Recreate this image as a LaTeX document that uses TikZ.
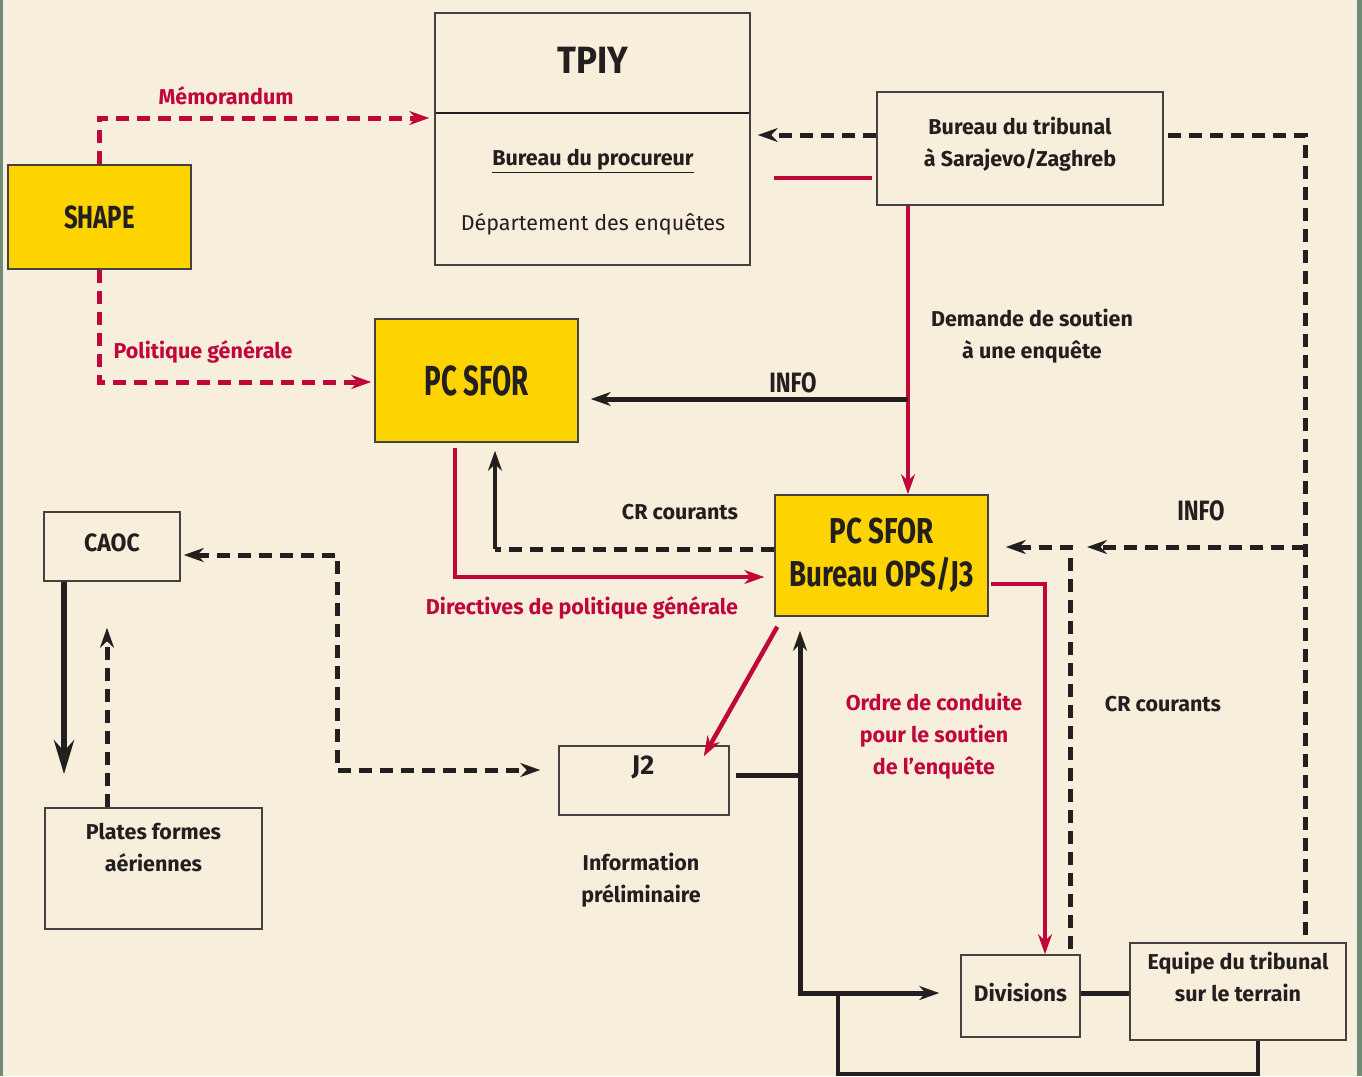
\documentclass[tikz,border=0pt]{standalone}
\usepackage{fontspec}
\setmainfont{Fira Sans}
\usepackage{graphicx}
\usetikzlibrary{arrows.meta,calc}
\definecolor{bg}{HTML}{F7EEDC}
\definecolor{framegreen}{HTML}{6F8C76}
\definecolor{ylw}{HTML}{FDD400}
\definecolor{rd}{HTML}{C0073A}
\definecolor{ink}{HTML}{231F20}
\newcommand\cnd[2][0.75]{\scalebox{#1}[1]{#2}}
\tikzset{
  box/.style={draw=ink!85, line width=1.5pt, fill=bg, inner sep=0pt},
  ybox/.style={box, fill=ylw},
  lbl/.style={font=\fontsize{21.5}{32}\selectfont\bfseries, text=ink, align=center, inner sep=0pt},
  rlbl/.style={lbl, text=rd},
  kline/.style={draw=ink, line width=5pt},
  kdash/.style={draw=ink, line width=5pt, dash pattern=on 13pt off 8pt},
  rline/.style={draw=rd, line width=4.5pt},
  rdash/.style={draw=rd, line width=5pt, dash pattern=on 13pt off 8pt},
  arr/.style={-{Stealth[length=20pt,width=14pt]}},
  arrs/.style={{Stealth[length=20pt,width=14pt]}-{Stealth[length=20pt,width=14pt]}},
}
\begin{document}
\begin{tikzpicture}[x=1pt,y=-1pt]
\fill[bg] (0,0) rectangle (1362,1076);
\useasboundingbox (0,0) rectangle (1362,1076);
\fill[framegreen] (0,0) rectangle (2.5,1076);
\fill[framegreen] (1357,0) rectangle (1362,1076);

% helper coordinates
\coordinate (ym) at (0,118);
\coordinate (yp) at (0,382);
\coordinate (yt) at (0,135);
\coordinate (yr) at (0,178);
\coordinate (xr) at (1305,0);
\coordinate (xd) at (908,0);
\coordinate (yinfo) at (0,399);
\coordinate (ycr) at (0,549);
\coordinate (xcr) at (495,0);
\coordinate (xdir) at (455,0);
\coordinate (ydir) at (0,577);
\coordinate (xj) at (337,0);
\coordinate (ycj) at (0,555);
\coordinate (yj2) at (0,770);
\coordinate (yj2r) at (0,775);
\coordinate (xv) at (800,0);
\coordinate (ydiv) at (0,993);
\coordinate (xb) at (838,0);
\coordinate (ybot) at (0,1074);
\coordinate (xeq) at (1258,0);
\coordinate (xo) at (1045,0);
\coordinate (yo) at (0,584);
\coordinate (xcr2) at (1070,0);
\coordinate (yinfo2) at (0,547);
\coordinate (xc) at (64,0);
\coordinate (xpu) at (107,0);

% boxes
\node[ybox, minimum width=183pt, minimum height=104pt] (shape) at (99.5,217)
  {\fontsize{32}{32}\selectfont\bfseries\color{ink}\cnd{SHAPE}};
\node[box, minimum width=315pt, minimum height=252pt] (tpiy) at (592.5,139) {};
\draw[ink, line width=2.5pt] ($(tpiy.west |- 0,113)+(2,0)$) -- ($(tpiy.east |- 0,113)+(-2,0)$);
\node[lbl, font=\fontsize{38}{38}\selectfont\bfseries] (tpiyT) at (593,60) {\cnd[0.92]{TPIY}};
\node[lbl] (bproc) at (593,161) {\underline{Bureau du procureur}};
\node[lbl, font=\fontsize{21.5}{32}\selectfont] (denq) at (593,224) {Département des enquêtes};

\node[box, minimum width=286pt, minimum height=113pt] (bt) at (1020,148.5) {};
\node[lbl] (btT) at (1020,144) {Bureau du tribunal\\à Sarajevo/Zaghreb};

\node[ybox, minimum width=203pt, minimum height=123pt] (pcsfor) at (476.5,380.5)
  {\fontsize{42}{42}\selectfont\bfseries\color{ink}\cnd[0.66]{PC SFOR}};
\node[ybox, minimum width=213pt, minimum height=121pt, align=center,
  font=\fontsize{36}{43}\selectfont\bfseries, text=ink] (j3) at (881.5,555.5)
  {\cnd[0.77]{PC SFOR}\\\cnd[0.77]{Bureau OPS/J3}};

\node[box, minimum width=136pt, minimum height=69pt] (caoc) at (112,546.5) {};
\node[lbl, font=\fontsize{25}{30}\selectfont\bfseries] (caocT) at (112,543) {\cnd[0.92]{CAOC}};
\node[box, minimum width=170pt, minimum height=69pt] (j2) at (644,780.5) {};
\node[lbl, font=\fontsize{27}{30}\selectfont\bfseries] (j2T) at (643,767) {J2};
\node[box, minimum width=217pt, minimum height=121pt] (plates) at (153.5,868.5) {};
\node[lbl] (platesT) at (153.5,848) {Plates formes\\aériennes};
\node[box, minimum width=119pt, minimum height=82pt] (div) at (1020.5,996) {};
\node[lbl, font=\fontsize{22.5}{30}\selectfont\bfseries] (divT) at (1020.5,993) {Divisions};
\node[box, minimum width=216pt, minimum height=97pt] (eq) at (1238,991.5) {};
\node[lbl] (eqT) at (1238,977) {Equipe du tribunal\\sur le terrain};

% connectors
\draw[rdash, arr, shorten >=5pt] (shape.north) |- (tpiy.west |- ym);
\draw[rdash, arr, shorten >=3pt] (shape.south) |- (pcsfor.west |- yp);
\draw[kdash, arr, shorten >=7pt] (bt.west |- yt) -- (tpiy.east |- yt);
\draw[rline, shorten <=4pt, shorten >=23pt] (bt.west |- yr) -- (tpiy.east |- yr);
\draw[kdash, shorten <=4pt] (bt.east |- yt) -| (eq.north -| xr);
\draw[kdash, arr, shorten >=17pt] (xr |- yinfo2) -- (xcr2 |- yinfo2);
\draw[rline, arr] (bt.south -| xd) -- (j3.north -| xd);
\draw[kline, arr, shorten >=12pt] (xd |- yinfo) -- (pcsfor.east |- yinfo);
\draw[kdash] (j3.west |- ycr) -- (xcr |- ycr);
\draw[kline, line width=4.5pt, arr, shorten >=8pt] (xcr |- ycr) -- (pcsfor.south -| xcr);
\draw[rline, arr, shorten <=5pt, shorten >=10pt] (pcsfor.south -| xdir) |- (j3.west |- ydir);
\draw[rline, arr] ($(j3.south west)+(3,10)$) -- ($(j2.north east)+(-26,11)$);
\draw[kdash, arrs, shorten <=3pt, shorten >=18pt] (caoc.east |- ycj) -| (xj |- yj2) -- (j2.west |- yj2);
\draw[kline, line width=6.5pt, -{Stealth[length=34pt,width=20pt]}, shorten >=33pt] (caoc.south -| xc) -- (plates.north -| xc);
\draw[kdash, arr, shorten >=46pt] (plates.north -| xpu) -- (caoc.south -| xpu);
\draw[kline, shorten <=6pt] (j2.east |- yj2r) -- (xv |- yj2r);
\draw[kline, arrs, shorten <=14pt, shorten >=21pt] (j3.south -| xv) -- (xv |- ydiv) -- (div.west |- ydiv);
\draw[kline, line width=4.5pt] (xb |- ydiv) |- (xeq |- ybot) -- (eq.south -| xeq);
\draw[rline, arr, shorten <=2pt] (j3.east |- yo) -| (div.north -| xo);
\draw[kdash, arr, shorten <=5pt, shorten >=17pt] (div.north -| xcr2) |- (j3.east |- yinfo2);
\draw[kline] (div.east |- ydiv) -- (eq.west |- ydiv);

% labels
\node[rlbl] (lmemo) at (226,96) {Mémorandum};
\node[rlbl] (lpol) at (203,352) {Politique générale};
\node[lbl] (ldem) at (1032,336) {Demande de soutien\\à une enquête};
\node[lbl, font=\fontsize{28}{28}\selectfont\bfseries] (linfo1) at (793,383) {\cnd[0.8]{INFO}};
\node[lbl] (lcr1) at (680,512) {CR courants};
\node[rlbl] (ldir) at (582,608) {Directives de politique générale};
\node[lbl, font=\fontsize{28}{28}\selectfont\bfseries] (linfo2) at (1201,511) {\cnd[0.8]{INFO}};
\node[rlbl] (lord) at (934,736) {Ordre de conduite\\pour le soutien\\de l’enquête};
\node[lbl] (lcr2) at (1163,704) {CR courants};
\node[lbl] (linf) at (641,880) {Information\\préliminaire};
\end{tikzpicture}
\end{document}
